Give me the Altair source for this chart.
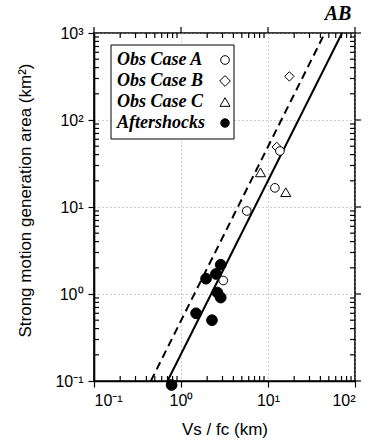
import altair as alt
import pandas as pd

# ---------------- data ----------------
series_names = ["Obs Case A", "Obs Case B", "Obs Case C", "Aftershocks"]

case_a_vs = [13.7, 12.0, 5.7, 3.06]
case_a_area = [44.0, 16.6, 9.0, 1.43]
case_b_vs = [17.6, 12.6]
case_b_area = [317.0, 49.0]
case_c_vs = [8.2, 16.0]
case_c_area = [25.0, 14.8]
after_vs = [2.86, 2.52, 1.94, 2.62, 2.86, 1.49, 2.27, 0.78]
after_area = [2.17, 1.70, 1.50, 1.04, 0.91, 0.60, 0.50, 0.09]

solid_vs = [0.70, 71.0]
solid_area = [0.1, 1000.0]
dashed_vs = [0.45, 45.0]
dashed_area = [0.1, 1000.0]

x_major = [0.1, 1, 10, 100]
y_major = [0.1, 1, 10, 100, 1000]
major_labels = ["10⁻¹", "10⁰", "10¹", "10²", "10³"]
minor_mult = [2, 3, 4, 5, 6, 7, 8, 9]
x_minor = [round(m * d, 4) for d in [0.1, 1, 10] for m in minor_mult]
y_minor = [round(m * d, 4) for d in [0.1, 1, 10, 100] for m in minor_mult]

# ---------------- styles ----------------
W, H = 261, 348
SANS = "Liberation Sans"
SERIF = "Liberation Serif"

label_expr = ""
for v, lab in zip(y_major, major_labels):
    label_expr += f"datum.value < {v * 3} ? '{lab}' : "
label_expr += "''"

xs = alt.Scale(type="log", domain=[0.1, 100], nice=False)
ys = alt.Scale(type="log", domain=[0.1, 1000], nice=False)

def df(xv, yv, name):
    return pd.DataFrame({"vs": xv, "area": yv, "series": name})

pts = pd.concat([
    df(case_b_vs, case_b_area, "Obs Case B"),
    df(case_c_vs, case_c_area, "Obs Case C"),
    df(case_a_vs, case_a_area, "Obs Case A"),
    df(after_vs, after_area, "Aftershocks"),
], ignore_index=True)

common = dict(tickColor="black", domainColor="black", domainWidth=1.6,
              tickWidth=1.2, labelColor="black")

main_axes = alt.Chart(pts).mark_point(opacity=0).encode(
    x=alt.X("vs:Q", scale=xs, axis=alt.Axis(
        orient="bottom", values=x_major, labelExpr=label_expr, tickSize=6,
        grid=True, gridDash=[1, 3], gridColor="#9a9a9a", gridWidth=1,
        labelFont=SANS, labelFontSize=16, labelPadding=5,
        title="Vs / fc (km)", titleFont=SANS, titleFontSize=17,
        titleFontWeight="normal", titleColor="black",
        titleBaseline="middle", titleY=48, **common)),
    y=alt.Y("area:Q", scale=ys, axis=alt.Axis(
        orient="left", values=y_major, labelExpr=label_expr, tickSize=6,
        grid=True, gridDash=[1, 3], gridColor="#9a9a9a", gridWidth=1,
        labelFont=SANS, labelFontSize=16, labelPadding=5,
        title="Strong motion generation area (km²)", titleFont=SANS,
        titleFontSize=17, titleFontWeight="normal", titleColor="black",
        titleBaseline="middle", titleX=-69, titleY=167, **common)),
)

# tick marks drawn as rules through the scales
def xticks(vals, y0, y1, w):
    d = pd.DataFrame({"t": vals})
    return alt.Chart(d).mark_rule(color="black", strokeWidth=w).encode(
        x=alt.X("t:Q", scale=xs, axis=None), y=alt.value(y0), y2=alt.value(y1))

def yticks(vals, x0, x1, w):
    d = pd.DataFrame({"t": vals})
    return alt.Chart(d).mark_rule(color="black", strokeWidth=w).encode(
        y=alt.Y("t:Q", scale=ys, axis=None), x=alt.value(x0), x2=alt.value(x1))

tick_layers = [
    xticks(x_minor, H - 5, H, 1.2),
    xticks(x_minor, 0, 5, 1.2),
    xticks(x_major, -6, 0, 1.2),
    yticks(y_minor, 0, 5, 1.2),
    yticks(y_minor, W - 5, W, 1.2),
    yticks(y_major, W, W + 6, 1.2),
]

def line_layer(xv, yv, dash):
    d = pd.DataFrame({"vs": xv, "area": yv})
    kw = dict(color="black", strokeWidth=2)
    if dash:
        kw["strokeDash"] = [8, 5]
    return alt.Chart(d).mark_line(**kw).encode(
        x=alt.X("vs:Q", scale=xs, axis=None),
        y=alt.Y("area:Q", scale=ys, axis=None),
    )

dashed = line_layer(dashed_vs, dashed_area, True)
solid = line_layer(solid_vs, solid_area, False)

shape_map = {"Obs Case A": "circle", "Obs Case B": "diamond",
             "Obs Case C": "triangle-up", "Aftershocks": "circle"}
fill_map = {"Obs Case A": "white", "Obs Case B": "white",
            "Obs Case C": "white", "Aftershocks": "black"}
size_map = {"Obs Case A": 75, "Obs Case B": 115,
            "Obs Case C": 100, "Aftershocks": 72}

points = alt.Chart(pts).mark_point(filled=True, stroke="black", strokeWidth=1,
                                   opacity=1).encode(
    x=alt.X("vs:Q", scale=xs, axis=None),
    y=alt.Y("area:Q", scale=ys, axis=None),
    shape=alt.Shape("series:N", scale=alt.Scale(domain=series_names,
                    range=[shape_map[s] for s in series_names]), legend=None),
    fill=alt.Fill("series:N", scale=alt.Scale(domain=series_names,
                  range=[fill_map[s] for s in series_names]), legend=None),
    size=alt.Size("series:N", scale=alt.Scale(domain=series_names,
                  range=[size_map[s] for s in series_names]), legend=None),
)

# ---------------- legend ----------------
one = alt.Data(values=[{"k": 0}])
legend_layers = [
    alt.Chart(one).mark_rect(fill="white", stroke="black", strokeWidth=1).encode(
        x=alt.value(17), x2=alt.value(140), y=alt.value(12), y2=alt.value(106))
]
for i, name in enumerate(series_names):
    yy = 27 + 21 * i
    legend_layers.append(
        alt.Chart(one).mark_text(text=name, align="left", baseline="middle",
                                 font=SERIF, fontStyle="italic", fontWeight="bold",
                                 fontSize=18, color="black").encode(
            x=alt.value(23), y=alt.value(yy)))
    legend_layers.append(
        alt.Chart(one).mark_point(shape=shape_map[name], filled=True,
                                  fill=fill_map[name], stroke="black",
                                  strokeWidth=1, opacity=1,
                                  size=size_map[name]).encode(
            x=alt.value(131), y=alt.value(yy)))

ab = alt.Chart(one).mark_text(text="AB", align="center", baseline="alphabetic",
                              font=SERIF, fontStyle="italic", fontWeight="bold",
                              fontSize=20, color="black").encode(
    x=alt.value(244), y=alt.value(-13))

chart = alt.layer(
    main_axes, *tick_layers, dashed, solid, points, *legend_layers, ab
).resolve_axis(x="independent", y="independent").properties(
    width=W, height=H, autosize="none",
    padding={"left": 94, "top": 33, "right": 15, "bottom": 62},
    background="white",
).configure_view(stroke="black", strokeWidth=1.6)

chart.save("out.html", embed_options={"renderer": "svg", "actions": False})
